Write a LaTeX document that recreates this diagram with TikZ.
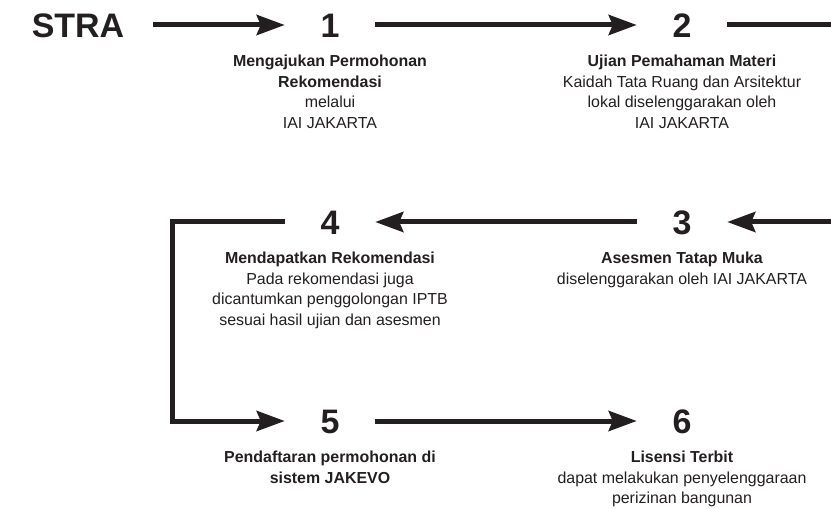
\documentclass[tikz,border=0pt]{standalone}
\usepackage{fontspec}
\setmainfont{Liberation Sans}
\usetikzlibrary{arrows.meta,positioning}

\definecolor{ink}{HTML}{231F20}

\tikzset{
  stepno/.style={font=\fontsize{29pt}{29pt}\selectfont\bfseries, text=ink,
    minimum width=2.7cm, inner sep=0pt, text height=0.73cm, text depth=0pt},
  stepdesc/.style={font=\fontsize{13.6pt}{17.7pt}\selectfont, text=ink,
    align=center, inner sep=0pt},
  flow/.style={draw=ink, line width=0.15cm},
  flowarrow/.style={flow, -{Stealth[length=0.84cm, width=0.6cm, inset=0.12cm]}}
}

\begin{document}
\begin{tikzpicture}[x=0.03cm, y=-0.03cm]
   \useasboundingbox (0,0) rectangle (831,509);

   % draw step numbers
   \node[stepno, minimum width=0pt, inner xsep=0.87cm] (stra) at (78,25) {STRA};
   \node[stepno] (n1) at (330,25) {1};
   \node[stepno] (n2) at (682,25) {2};
   \node[stepno] (n3) at (682,222) {3};
   \node[stepno] (n4) at (330,222) {4};
   \node[stepno] (n5) at (330,421) {5};
   \node[stepno] (n6) at (682,421) {6};

   % draw descriptions
   \node[stepdesc, below=0.52cm of n1] (t1) {\textbf{Mengajukan Permohonan}\\\textbf{Rekomendasi}\\melalui\\IAI JAKARTA};
   \node[stepdesc, below=0.52cm of n2] (t2) {\textbf{Ujian Pemahaman Materi}\\Kaidah Tata Ruang dan Arsitektur\\lokal diselenggarakan oleh\\IAI JAKARTA};
   \node[stepdesc, below=0.52cm of n3] (t3) {\textbf{Asesmen Tatap Muka}\\diselenggarakan oleh IAI JAKARTA};
   \node[stepdesc, below=0.52cm of n4] (t4) {\textbf{Mendapatkan Rekomendasi}\\Pada rekomendasi juga\\dicantumkan penggolongan IPTB\\sesuai hasil ujian dan asesmen};
   \node[stepdesc, below=0.52cm of n5] (t5) {\textbf{Pendaftaran permohonan di}\\\textbf{sistem JAKEVO}};
   \node[stepdesc, below=0.52cm of n6] (t6) {\textbf{Lisensi Terbit}\\dapat melakukan penyelenggaraan\\perizinan bangunan};

   % draw connectors
   \coordinate (out2) at (831,25);
   \coordinate (in3) at (831,222);
   \coordinate (bend) at (172,421);
   \draw[flowarrow] (stra) -- (n1);
   \draw[flowarrow] (n1) -- (n2);
   \draw[flow] (n2) -- (out2);
   \draw[flowarrow] (in3) -- (n3);
   \draw[flowarrow] (n3) -- (n4);
   \draw[flowarrow] (n4) -| (bend) -- (n5);
   \draw[flowarrow] (n5) -- (n6);
\end{tikzpicture}
\end{document}
